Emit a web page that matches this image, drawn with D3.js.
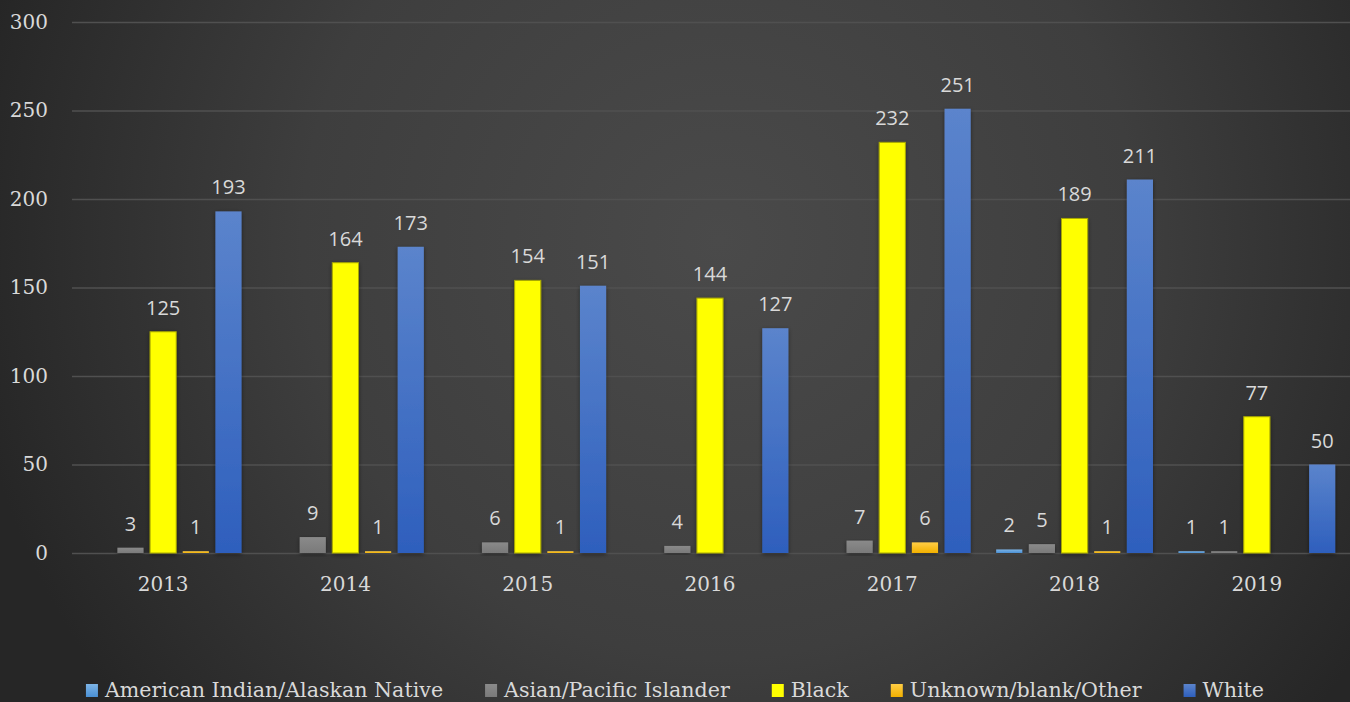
<!DOCTYPE html>
<html>
<head>
<meta charset="utf-8">
<title>Chart</title>
<script src="https://cdn.jsdelivr.net/npm/d3@7"></script>
<style>
	html, body { margin: 0; padding: 0; background: #333; }
	svg { display: block; }
</style>
</head>
<body>
<svg id="chart" width="1350" height="702"></svg>
<script>
'use strict';

var years = ['2013', '2014', '2015', '2016', '2017', '2018', '2019'];
var seriesNames = [
	'American Indian/Alaskan Native',
	'Asian/Pacific Islander',
	'Black',
	'Unknown/blank/Other',
	'White'
];
// zero counts carry no label in the original, so they are null here
var americanIndian = [null, null, null, null, null, 2, 1];
var asianPacific = [3, 9, 6, 4, 7, 5, 1];
var black = [125, 164, 154, 144, 232, 189, 77];
var unknownOther = [1, 1, 1, null, 6, 1, null];
var white = [193, 173, 151, 127, 251, 211, 50];
var yTicks = [0, 50, 100, 150, 200, 250, 300];

var seriesValues = [americanIndian, asianPacific, black, unknownOther, white];

var width = 1350;
var height = 702;
var margin = { left: 72, right: 2, top: 22, bottom: 149 };

var serifFont = '"DejaVu Serif", serif';
var sansFont = '"Open Sans", sans-serif';

var svg = d3.select('#chart');
var defs = svg.append('defs');

/**
 * Add a vertical linear gradient.
 * @param {string} id
 * @param {string} top
 * @param {string} bottom
 */
var addGradient = function addGradient(id, top, bottom) {
	var g = defs.append('linearGradient')
		.attr('id', id)
		.attr('x1', 0).attr('y1', 0)
		.attr('x2', 0).attr('y2', 1);
	g.append('stop').attr('offset', '0%').attr('stop-color', top);
	g.append('stop').attr('offset', '100%').attr('stop-color', bottom);
};

addGradient('fill-0', '#7db4e6', '#4a90d4');
addGradient('fill-1', '#8a8a8a', '#7a7a7a');
addGradient('fill-2', '#ffff00', '#ffff00');
addGradient('fill-3', '#ffcd45', '#f2b000');
addGradient('fill-4', '#5b84cc', '#2e5fbd');

var strokes = [null, null, '#a8a800', null, null];

var bg = defs.append('radialGradient')
	.attr('id', 'bg')
	.attr('gradientUnits', 'userSpaceOnUse')
	.attr('cx', 720).attr('cy', 240).attr('r', 760);
bg.append('stop').attr('offset', '0%').attr('stop-color', '#4a4a4a');
bg.append('stop').attr('offset', '55%').attr('stop-color', '#3e3e3e');
bg.append('stop').attr('offset', '100%').attr('stop-color', '#262626');

var shadow = defs.append('filter')
	.attr('id', 'shadow')
	.attr('x', '-30%').attr('y', '-10%')
	.attr('width', '160%').attr('height', '130%');
shadow.append('feDropShadow')
	.attr('dx', 0).attr('dy', 1.5)
	.attr('stdDeviation', 2)
	.attr('flood-color', '#000')
	.attr('flood-opacity', 0.45);

svg.append('rect')
	.attr('width', width)
	.attr('height', height)
	.attr('fill', 'url(#bg)');

var x0 = d3.scaleBand()
	.domain(years)
	.range([margin.left, width - margin.right])
	.padding(0);

var x1 = d3.scaleBand()
	.domain(d3.range(seriesNames.length))
	.range([0, x0.bandwidth()])
	.paddingInner(0.2)
	.paddingOuter(0.39);

var y = d3.scaleLinear()
	.domain([0, 300])
	.range([height - margin.bottom, margin.top]);

// gridlines and value axis
var yAxis = svg.append('g')
	.attr('transform', 'translate(' + margin.left + ',0)')
	.call(d3.axisLeft(y)
		.tickValues(yTicks)
		.tickSize(-(width - margin.left))
		.tickPadding(24));

yAxis.select('.domain').remove();
yAxis.selectAll('.tick line')
	.attr('stroke', '#505050')
	.attr('stroke-width', 1.5);
yAxis.selectAll('.tick text')
	.attr('fill', '#d9d9d9')
	.style('font-family', serifFont)
	.style('font-size', '20px');

// bars
var rows = years.map(function(year, i) {
	return {
		year: year,
		values: seriesValues.map(function(s, k) {
			return { series: k, value: s[i] };
		})
	};
});

var present = function(d) {
	return d.values.filter(function(v) { return v.value !== null; });
};

var groups = svg.append('g')
	.selectAll('g')
	.data(rows)
	.join('g')
	.attr('transform', function(d) { return 'translate(' + x0(d.year) + ',0)'; });

groups.selectAll('rect')
	.data(present)
	.join('rect')
	.attr('x', function(d) { return x1(d.series); })
	.attr('y', function(d) { return y(d.value); })
	.attr('width', x1.bandwidth())
	.attr('height', function(d) { return y(0) - y(d.value); })
	.attr('fill', function(d) { return 'url(#fill-' + d.series + ')'; })
	.attr('stroke', function(d) { return strokes[d.series]; })
	.attr('stroke-width', 1)
	.attr('filter', 'url(#shadow)');

groups.selectAll('text')
	.data(present)
	.join('text')
	.attr('x', function(d) { return x1(d.series) + x1.bandwidth() / 2; })
	.attr('y', function(d) { return y(d.value) - 17; })
	.attr('text-anchor', 'middle')
	.attr('fill', '#d9d9d9')
	.style('font-family', sansFont)
	.style('font-size', '20px')
	.text(function(d) { return d.value; });

// category axis
svg.append('line')
	.attr('x1', margin.left)
	.attr('x2', width)
	.attr('y1', y(0))
	.attr('y2', y(0))
	.attr('stroke', '#a6a6a6')
	.attr('stroke-width', 2)
	.attr('filter', 'url(#shadow)');

svg.append('g')
	.selectAll('text')
	.data(years)
	.join('text')
	.attr('x', function(d) { return x0(d) + x0.bandwidth() / 2; })
	.attr('y', y(0) + 38)
	.attr('text-anchor', 'middle')
	.attr('fill', '#d9d9d9')
	.style('font-family', serifFont)
	.style('font-size', '20px')
	.text(function(d) { return d; });

// legend, laid out from the measured label widths and centred
var legend = svg.append('g');
var items = legend.selectAll('g')
	.data(seriesNames)
	.join('g');

items.append('rect')
	.attr('y', 684)
	.attr('width', 12)
	.attr('height', 13)
	.attr('fill', function(d, i) { return 'url(#fill-' + i + ')'; });

items.append('text')
	.attr('x', 19)
	.attr('y', 697)
	.attr('fill', '#d9d9d9')
	.style('font-family', serifFont)
	.style('font-size', '20.6px')
	.text(function(d) { return d; });

var gap = 42;
var offsets = [];
var total = 0;
items.each(function(d, i) {
	var w = 19 + d3.select(this).select('text').node().getComputedTextLength();
	offsets.push(total);
	total += w + (i < seriesNames.length - 1 ? gap : 0);
});
var start = width / 2 - total / 2;
items.attr('transform', function(d, i) { return 'translate(' + (start + offsets[i]) + ',0)'; });
</script>
</body>
</html>
